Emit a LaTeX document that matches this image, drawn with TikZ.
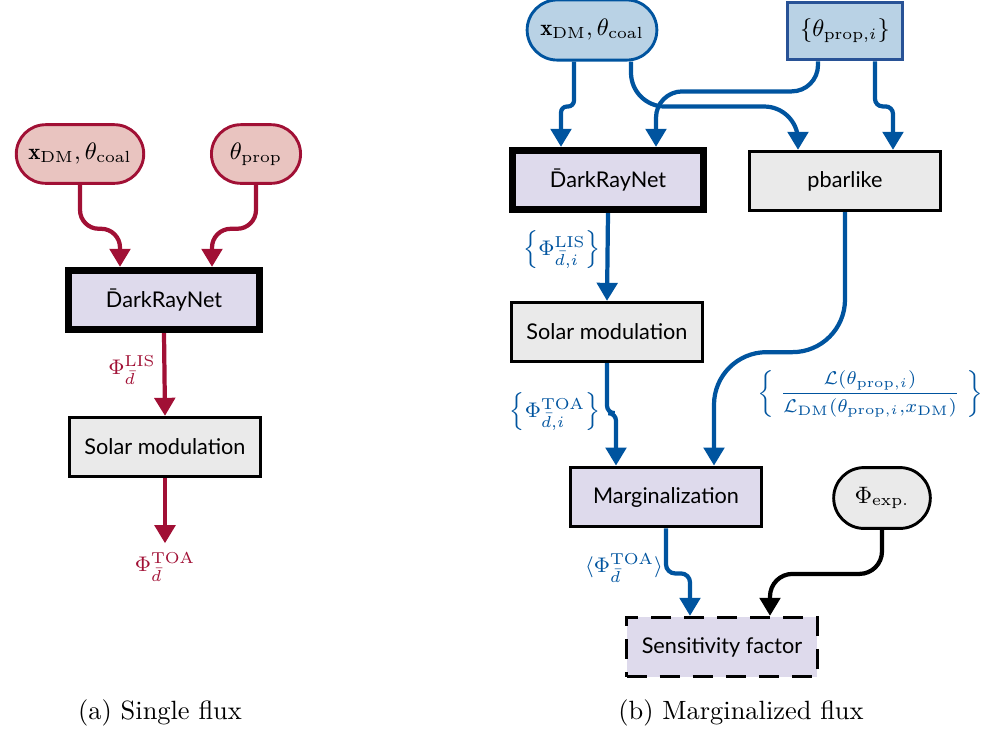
\documentclass[tikz,border=0pt]{standalone}
\usepackage{amsmath,amssymb}
\usepackage{fontspec}
\newfontfamily\lato{Lato}
\usetikzlibrary{shapes.misc,arrows.meta,calc}
\definecolor{bordeaux}{RGB}{161,16,53}
\definecolor{lbordeaux}{RGB}{233,196,192}
\definecolor{rwthblue}{RGB}{0,84,159}
\definecolor{lblue}{RGB}{185,210,229}
\definecolor{dblue}{RGB}{40,82,150}
\definecolor{lviolet}{RGB}{222,218,236}
\definecolor{lgray}{RGB}{234,234,234}
\begin{document}
\begin{tikzpicture}[x=0.0133cm,y=-0.0133cm,
    every node/.style={font=\fontsize{8.7}{10.5}\selectfont},
    box/.style={draw,line width=1.1pt,fill=lgray,minimum width=2.54cm,minimum height=0.79cm,
      font=\lato\fontsize{8.2}{10}\selectfont},
    net/.style={box,fill=lviolet,line width=2.6pt},
    pill/.style={rounded rectangle,line width=1.1pt,minimum height=0.78cm},
    lbl/.style={font=\fontsize{8}{10}\selectfont},
    capt/.style={font=\normalsize},
    flow/.style={line width=1.6pt,-{Triangle[length=0.24cm,width=0.27cm]}},
    redflow/.style={flow,bordeaux},
    blueflow/.style={flow,rwthblue}]
  \useasboundingbox (0,0) rectangle (985,729);
  \node[pill,draw=bordeaux,fill=lbordeaux,minimum width=1.93cm] (xl) at (80,154) {$\mathbf{x}_{\mathrm{DM}},\theta_{\mathrm{coal}}$};
  \node[pill,draw=bordeaux,fill=lbordeaux,minimum width=1.42cm] (thl) at (256,154) {$\theta_{\mathrm{prop}}$};
  \node[net] (drnl) at (164,300) {\={D}arkRayNet};
  \node[box] (soll) at (165,447) {Solar modulation};
  \node[lbl,bordeaux] (toal) at (165,567) {$\Phi^{\mathrm{TOA}}_{\bar{d}}$};
  \node[lbl,bordeaux] (lisl) at (132,370) {$\Phi^{\mathrm{LIS}}_{\bar{d}}$};
  \node[capt] (capa) at (160,713) {(a) Single flux};

  \node[pill,draw=rwthblue,fill=lblue,minimum width=1.96cm,minimum height=0.8cm] (xr) at (592,30) {$\mathbf{x}_{\mathrm{DM}},\theta_{\mathrm{coal}}$};
  \node[draw=dblue,fill=lblue,line width=1.1pt,minimum width=1.52cm,minimum height=0.77cm] (thr) at (845,31) {$\{\theta_{\mathrm{prop},i}\}$};
  \node[net] (drnr) at (608,180) {\={D}arkRayNet};
  \node[box] (pbar) at (845,181) {pbarlike};
  \node[box] (solr) at (607,332) {Solar modulation};
  \node[box,fill=lviolet,line width=1.3pt] (marg) at (666,497) {Marginalization};
  \node[pill,draw,fill=lgray,minimum width=1.52cm,minimum height=0.81cm] (phi) at (882,498) {$\Phi_{\mathrm{exp.}}$};
  \node[box,fill=lviolet,dash pattern=on 0.27cm off 0.17cm] (sens) at (722,647) {Sensitivity factor};
  \node[lbl,rwthblue] (lisr) at (562,250) {$\left\{\Phi^{\mathrm{LIS}}_{\bar{d},i}\right\}$};
  \node[lbl,rwthblue] (toar) at (555,412) {$\left\{\Phi^{\mathrm{TOA}}_{\bar{d},i}\right\}$};
  \node[rwthblue,font=\fontsize{7.4}{9}\selectfont] (ratio) at (870,394) {$\left\{\;\dfrac{\mathcal{L}(\theta_{\mathrm{prop},i})}{\mathcal{L}_{\mathrm{DM}}(\theta_{\mathrm{prop},i}{,}x_{\mathrm{DM}})}\;\right\}$};
  \node[lbl,rwthblue] (mean) at (624,568) {$\langle\Phi^{\mathrm{TOA}}_{\bar{d}}\rangle$};
  \node[capt] (capb) at (741,713) {(b) Marginalized flux};

  \draw[redflow,rounded corners=0.25cm] (xl.south) -- ++(0,44) -| ($(drnl.north)+(-44,0)$);
  \draw[redflow,rounded corners=0.25cm] (thl.south) -- ++(0,44) -| ($(drnl.north)+(48,0)$);
  \draw[redflow] (drnl.south) -- (soll.north);
  \draw[redflow] (soll.south) -- (toal.north);

  \draw[blueflow,rounded corners=0.08cm] ($(xr.south)+(-18,0)$) -- ++(0,45) -| ($(drnr.north)+(-47,0)$);
  \draw[blueflow,rounded corners=0.45cm] ($(xr.south)+(39,0)$) -- ++(0,45) -| ($(pbar.north)+(-47,0)$);
  \draw[blueflow,rounded corners=0.35cm] ($(thr.south)+(-27,0)$) -- ++(0,30) -| ($(drnr.north)+(48,0)$);
  \draw[blueflow,rounded corners=0.1cm] ($(thr.south)+(30,0)$) -- ++(0,45) -| ($(pbar.north)+(48,0)$);
  \draw[blueflow] (drnr.south) -- (solr.north);
  \draw[blueflow,rounded corners=0.1cm] (solr.south) -- ++(0,50) -| ($(marg.north)+(-50,0)$);
  \draw[blueflow,rounded corners=0.7cm] (pbar.south) -- ++(0,140) -| ($(marg.north)+(48,0)$);
  \draw[blueflow,rounded corners=0.12cm] (marg.south) -- ++(0,45) -| ($(sens.north)+(-32,0)$);
  \draw[flow,rounded corners=0.3cm] (phi.south) -- ++(0,44) -| ($(sens.north)+(48,0)$);
\end{tikzpicture}
\end{document}
